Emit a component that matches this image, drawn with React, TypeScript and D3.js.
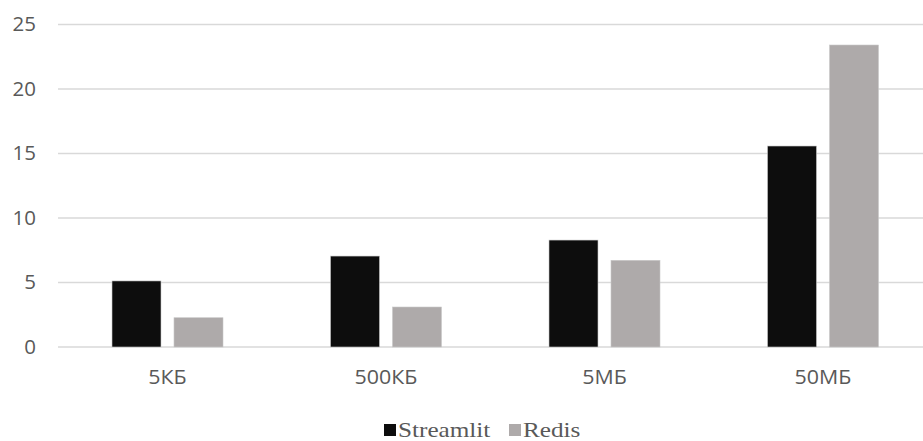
import React from "react";
import * as d3 from "d3";

const categories = ["5КБ", "500КБ", "5МБ", "50МБ"];
const seriesNames = ["Streamlit", "Redis"];
const streamlitValues = [5.12, 7.05, 8.29, 15.58];
const redisValues = [2.27, 3.1, 6.72, 23.41];
const yTicks = [0, 5, 10, 15, 20, 25];
const colors = ["#0d0d0d", "#aeaaaa"];

const W = 923;
const H = 441;

export default function App() {
  const x0 = d3.scaleBand<string>().domain(categories).range([58.25, 932.25]).padding(0);
  const x1 = d3
    .scaleBand<string>()
    .domain(seriesNames)
    .range([0, x0.step()])
    .paddingInner(13 / 62)
    .paddingOuter(0.867);
  const y = d3.scaleLinear().domain([0, 25]).range([347, 24.5]);
  const values = [streamlitValues, redisValues];
  const font = "'Open Sans', 'Noto Sans', sans-serif";
  const legendX = [384, 509];

  return (
    <svg
      width={W}
      height={H}
      style={{ position: "absolute", left: 0, top: 0, background: "#fff" }}
    >
      {yTicks.map((t) => (
        <g key={t}>
          <line x1={58} x2={923} y1={y(t)} y2={y(t)} stroke="#d9d9d9" strokeWidth={1.5} />
          <g transform={`translate(36,${y(t)}) scale(1.05,1)`}>
            <text
              dy="0.35em"
              textAnchor="end"
              fontFamily={font}
              fontSize={19.5}
              fill="#595959"
            >
              {t}
            </text>
          </g>
        </g>
      ))}
      {categories.map((c, i) => (
        <g key={c} transform={`translate(${x0(c)},0)`}>
          {seriesNames.map((s, j) => {
            const v = values[j][i];
            return (
              <rect
                key={s}
                x={x1(s)}
                y={y(v)}
                width={x1.bandwidth()}
                height={y(0) - y(v)}
                fill={colors[j]}
                stroke="#c8c8c8"
                strokeWidth={0.6}
              />
            );
          })}
          <g transform={`translate(${x0.bandwidth() / 2},384) scale(1.07,1)`}>
            <text textAnchor="middle" fontFamily={font} fontSize={20} fill="#595959">
              {c}
            </text>
          </g>
        </g>
      ))}
      <g>
        {seriesNames.map((s, j) => {
          const lx = legendX[j];
          return (
            <g key={s}>
              <rect x={lx} y={424} width={12} height={12} fill={colors[j]} />
              <g transform={`translate(${lx + 14},437) scale(1.2,1)`}>
                <text
                  fontFamily="'Liberation Serif', 'Times New Roman', serif"
                  fontSize={21}
                  fill="#595959"
                >
                  {s}
                </text>
              </g>
            </g>
          );
        })}
      </g>
    </svg>
  );
}
